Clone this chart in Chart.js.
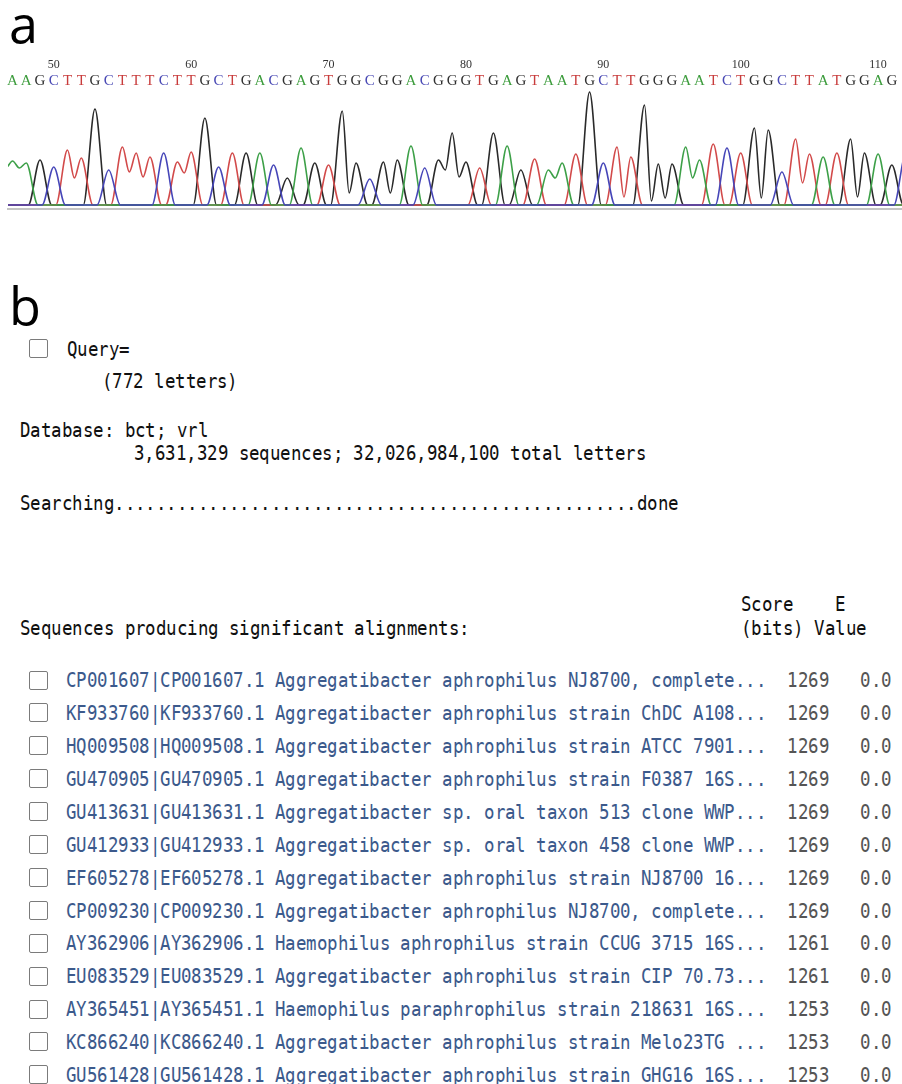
<!DOCTYPE html>
<html><head><meta charset="utf-8">
<script src="https://cdn.jsdelivr.net/npm/chart.js@4.4.1/dist/chart.umd.min.js"></script>
<style>
@font-face{font-family:'PanelLabel';src:local('Open Sans'),local('Open Sans Regular'),local('OpenSans-Regular');ascent-override:78%;descent-override:20%;}
@font-face{font-family:'BlastMono';src:local('DejaVu Sans Mono'),local('DejaVuSansMono');ascent-override:80%;descent-override:5%;}
html,body{margin:0;padding:0;background:#fff;}
#page{position:relative;width:902px;height:1084px;overflow:hidden;background:#fff;}
.lbl{position:absolute;font-family:'PanelLabel',"Open Sans",sans-serif;font-size:52px;line-height:30px;color:#000;}
.mono{position:absolute;white-space:pre;font-family:'BlastMono',"DejaVu Sans Mono",monospace;font-size:20px;line-height:16px;transform-origin:0 50%;transform:scaleX(0.871);color:#111;}
.desc{color:#3c5a8c;}
.num{color:#555;}
.cb{position:absolute;width:17px;height:17px;border:1.5px solid #7b7b7b;border-radius:2px;background:#fff;}
#chromCanvas{position:absolute;left:0;top:56px;}
</style></head>
<body><div id="page">
<div class="lbl" style="left:9px;top:13px">a</div>
<canvas id="chromCanvas" width="902" height="159"></canvas>
<div class="lbl" style="left:9px;top:295px">b</div>
<div id="blast"></div>
</div>
<script>
// ---------- panel a: chromatogram data ----------
const sequence = "AAGCTTGCTTTCTTGCTGACGAGTGGCGGACGGGTGAGTAATGCTTGGGAATCTGGCTTATGGAGC";
const firstBasePosition = 47;
const positionTicks = [50, 60, 70, 80, 90, 100, 110];
const peakHeights = [44,42,45,38,55,47,96,35,58,52,48,52,43,53,87,38,52,52,52,40,27,57,42,40,94,42,26,43,45,59,37,45,72,43,37,72,59,35,46,35,42,51,113,42,58,48,100,41,41,58,45,61,57,52,77,75,33,66,51,48,52,66,52,51,40,50];
// signal between two neighbouring peaks of the same base (index of the second peak)
const runValleys = {1:37,5:27,9:33,10:28,13:32,25:12,28:12,32:35,33:28,40:27,45:8,47:4,48:7,50:27,55:7,58:22,62:8};
const leadingSignal = {A:40, C:0, G:0, T:0};
const channelOrder = ['C','A','T','G'];
const traceColors = {A:'#3da048', C:'#4646b8', G:'#2a2a2a', T:'#d24a4a'};
const letterColors = {A:'#3c9c3c', C:'#4848b4', G:'#303030', T:'#c83c3c'};
const xMin = 46.67, xMax = 111.74;
const halfWidth = 0.85;

function channelPoints(base){
  const pts = [{x: 46.2, y: leadingSignal[base]}];
  let prev = null;
  for (let i = 0; i < sequence.length; i++) {
    if (sequence[i] !== base) continue;
    const p = firstBasePosition + i;
    if (prev !== null && p - prev === 1) {
      pts.push({x: p - 0.5, y: runValleys[i] ?? 0});
    } else {
      if (prev !== null) pts.push({x: prev + halfWidth, y: 0});
      if (!(prev === null && leadingSignal[base] > 0)) pts.push({x: p - halfWidth, y: 0});
      else pts.push({x: p - 0.5, y: leadingSignal[base] - 3});
    }
    pts.push({x: p, y: peakHeights[i]});
    prev = p;
  }
  pts.push({x: prev + halfWidth, y: 0});
  pts.push({x: 113, y: 0});
  return pts;
}

const basePositions = [];
for (let i = 0; i < sequence.length; i++) {
  const p = firstBasePosition + i;
  if (p >= xMin && p <= xMax) basePositions.push(p);
}
const letterAt = v => sequence[Math.round(v) - firstBasePosition] || '';

new Chart(document.getElementById('chromCanvas').getContext('2d'), {
  type: 'line',
  data: {
    datasets: channelOrder.map(b => ({
      label: b,
      data: channelPoints(b),
      borderColor: traceColors[b],
      borderWidth: 1.6,
      pointRadius: 0,
      fill: false,
      cubicInterpolationMode: 'monotone'
    }))
  },
  options: {
    responsive: false,
    animation: false,
    events: [],
    layout: {padding: {left: 8, right: 0, top: 0, bottom: 0}},
    plugins: {legend: {display: false}, tooltip: {enabled: false}},
    scales: {
      x: {
        type: 'linear', position: 'top', min: xMin, max: xMax, weight: 1,
        grid: {display: false, drawTicks: false}, border: {display: false},
        afterBuildTicks: s => { s.ticks = basePositions.map(v => ({value: v})); },
        afterFit: s => { s.height = 18; },
        ticks: {
          autoSkip: false, maxRotation: 0, minRotation: 0, padding: 0,
          font: {family: 'Liberation Serif', size: 15},
          color: c => letterColors[letterAt(c.tick ? c.tick.value : basePositions[c.index])] || '#333',
          callback: v => letterAt(v)
        }
      },
      num: {
        type: 'linear', position: 'top', min: xMin, max: xMax, weight: 2,
        grid: {display: false, drawTicks: false}, border: {display: false},
        afterBuildTicks: s => { s.ticks = positionTicks.map(v => ({value: v})); },
        afterFit: s => { s.height = 16; },
        ticks: {autoSkip: false, maxRotation: 0, padding: 0, font: {family: 'Liberation Serif', size: 12}, color: '#333', callback: v => String(v)}
      },
      xb: {
        type: 'linear', position: 'bottom', min: xMin, max: xMax,
        grid: {display: false, drawTicks: false},
        ticks: {display: false},
        border: {display: true, color: '#c4c4c4', width: 2},
        afterFit: s => { s.height = 6; }
      },
      y: {display: false, min: -4, max: 115}
    }
  }
});

// ---------- panel b: BLAST output ----------
const accessions = ["CP001607","KF933760","HQ009508","GU470905","GU413631","GU412933","EF605278","CP009230","AY362906","EU083529","AY365451","KC866240","GU561428"];
const descriptions = [
  "Aggregatibacter aphrophilus NJ8700, complete...",
  "Aggregatibacter aphrophilus strain ChDC A108...",
  "Aggregatibacter aphrophilus strain ATCC 7901...",
  "Aggregatibacter aphrophilus strain F0387 16S...",
  "Aggregatibacter sp. oral taxon 513 clone WWP...",
  "Aggregatibacter sp. oral taxon 458 clone WWP...",
  "Aggregatibacter aphrophilus strain NJ8700 16...",
  "Aggregatibacter aphrophilus NJ8700, complete...",
  "Haemophilus aphrophilus strain CCUG 3715 16S...",
  "Aggregatibacter aphrophilus strain CIP 70.73...",
  "Haemophilus paraphrophilus strain 218631 16S...",
  "Aggregatibacter aphrophilus strain Melo23TG ...",
  "Aggregatibacter aphrophilus strain GHG16 16S..."
];
const scores = [1269,1269,1269,1269,1269,1269,1269,1269,1261,1261,1253,1253,1253];
const eValues = ["0.0","0.0","0.0","0.0","0.0","0.0","0.0","0.0","0.0","0.0","0.0","0.0","0.0"];

const blast = document.getElementById('blast');
function addText(x, cy, html){
  const d = document.createElement('div');
  d.className = 'mono';
  d.style.left = x + 'px';
  d.style.top = (cy - 8.3) + 'px';
  d.innerHTML = html;
  blast.appendChild(d);
}
function addBox(x, cy){
  const b = document.createElement('div');
  b.className = 'cb';
  b.style.left = x + 'px';
  b.style.top = (cy - 10) + 'px';
  blast.appendChild(b);
}
addBox(29, 349);
addText(67, 349, 'Query=');
addText(102, 381, '(772 letters)');
addText(20, 430, 'Database: bct; vrl');
addText(134, 453, '3,631,329 sequences; 32,026,984,100 total letters');
addText(20, 503, 'Searching' + '.'.repeat(50) + 'done');
addText(741, 604, 'Score    E');
addText(20, 628, 'Sequences producing significant alignments:');
addText(741, 628, '(bits) Value');
for (let i = 0; i < accessions.length; i++) {
  const cy = 680.5 + 32.9 * i;
  addBox(29, cy);
  const line = '<span class="desc">' + accessions[i] + '|' + accessions[i] + '.1 ' + descriptions[i] + '</span>' +
    '<span class="num">  ' + scores[i] + '   ' + eValues[i] + '</span>';
  addText(66, cy, line);
}
</script>
</body></html>
